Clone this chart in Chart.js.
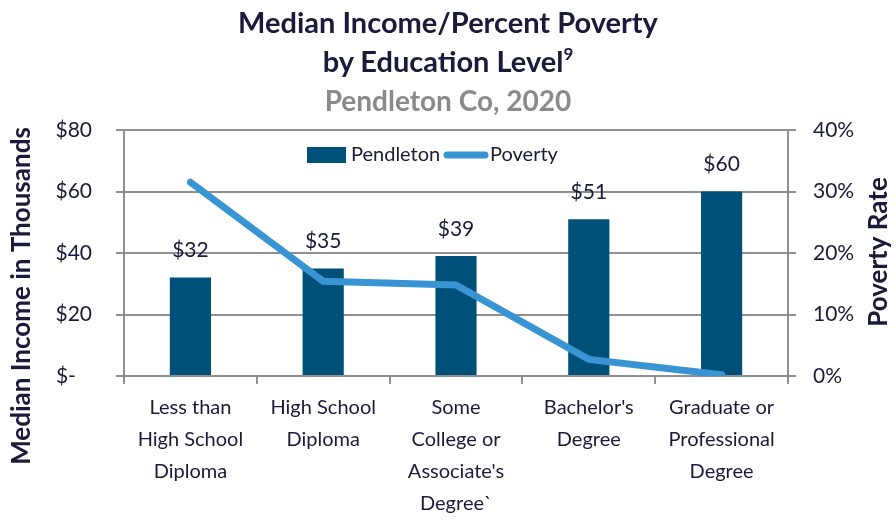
<!DOCTYPE html>
<html>
<head>
<meta charset="utf-8">
<script src="https://cdn.jsdelivr.net/npm/chart.js@4.4.1/dist/chart.umd.min.js"></script>
<style>
  html, body { margin: 0; padding: 0; background: #fff; }
  #wrap { position: relative; width: 896px; height: 521px; }
  #title {
    position: absolute; left: 0; top: 2px; width: 896px; text-align: center;
    font-family: Lato, sans-serif; font-weight: bold; font-size: 29px; line-height: 39px; color: #1a1a3a;
  }
  #title sup { font-size: 17px; line-height: 0; vertical-align: 12px; }
  #title .sub { color: #8a8a8a; font-size: 28px; }
</style>
</head>
<body>
<div id="wrap">
  <canvas id="chart" width="896" height="521"></canvas>
  <div id="title">Median Income/Percent Poverty<br>by Education Level<sup>9</sup><br><span class="sub">Pendleton Co, 2020</span></div>
</div>
<script>
// 데이터
const categories = [
  ['Less than', 'High School', 'Diploma'],
  ['High School', 'Diploma'],
  ['Some', 'College or', "Associate's", 'Degree`'],
  ["Bachelor's", 'Degree'],
  ['Graduate or', 'Professional', 'Degree']
];
const incomeValues = [32, 35, 39, 51, 60];       // 중위소득 (천 달러)
const povertyValues = [31.5, 15.4, 14.8, 2.7, 0.2]; // 빈곤율 (%)
const incomeTicks = ['$-', '$20', '$40', '$60', '$80'];

const textColor = '#1a1a3a';
const gridColor = '#909090';
const barColor = '#01507a';
const lineColor = '#3894d2';
const fontFam = 'Lato, sans-serif';

// 막대 위 라벨 + 범례 + 축 제목
const extrasPlugin = {
  id: 'extras',
  afterDatasetsDraw(chart) {
    const ctx = chart.ctx;
    const meta = chart.getDatasetMeta(0);
    ctx.save();
    ctx.font = '21px ' + fontFam;
    ctx.fillStyle = textColor;
    ctx.textAlign = 'center';
    ctx.textBaseline = 'middle';
    meta.data.forEach((bar, i) => {
      ctx.fillText('$' + incomeValues[i], bar.x, bar.y - 27);
    });

    // 범례
    ctx.fillStyle = barColor;
    ctx.fillRect(307, 147, 39, 16);
    ctx.fillStyle = textColor;
    ctx.textAlign = 'left';
    ctx.font = '20px ' + fontFam;
    ctx.fillText('Pendleton', 351, 155);
    ctx.strokeStyle = lineColor;
    ctx.lineWidth = 7;
    ctx.lineCap = 'round';
    ctx.beginPath();
    ctx.moveTo(447, 155);
    ctx.lineTo(485, 155);
    ctx.stroke();
    ctx.fillText('Poverty', 490, 155);

    // 축 제목
    ctx.font = 'bold 26px ' + fontFam;
    ctx.textAlign = 'center';
    ctx.save();
    ctx.translate(22, 296);
    ctx.rotate(-Math.PI / 2);
    ctx.fillText('Median Income in Thousands', 0, 0);
    ctx.restore();
    ctx.save();
    ctx.translate(879, 252);
    ctx.rotate(-Math.PI / 2);
    ctx.fillText('Poverty Rate', 0, 0);
    ctx.restore();
    ctx.restore();
  }
};

new Chart(document.getElementById('chart'), {
  type: 'bar',
  data: {
    labels: categories,
    datasets: [
      {
        type: 'bar',
        label: 'Pendleton',
        data: incomeValues,
        backgroundColor: barColor,
        yAxisID: 'y',
        barPercentage: 0.31,
        categoryPercentage: 1,
        order: 2
      },
      {
        type: 'line',
        label: 'Poverty',
        data: povertyValues,
        borderColor: lineColor,
        borderWidth: 7,
        borderCapStyle: 'round',
        pointRadius: 0,
        tension: 0,
        yAxisID: 'y1',
        order: 1
      }
    ]
  },
  options: {
    responsive: false,
    animation: false,
    layout: { padding: { top: 130, left: 0, right: 0, bottom: 0 } },
    plugins: {
      legend: { display: false },
      tooltip: { enabled: false }
    },
    scales: {
      x: {
        grid: { display: true, drawOnChartArea: false, offset: true, color: gridColor, lineWidth: 2, tickLength: 8 },
        border: { color: gridColor, width: 2 },
        ticks: { color: textColor, font: { family: fontFam, size: 20, lineHeight: 1.6 }, padding: 8, maxRotation: 0, autoSkip: false },
        afterFit(s) { s.height = 145; }
      },
      y: {
        position: 'left',
        min: 0, max: 80,
        grid: { color: gridColor, lineWidth: 2, tickLength: 8 },
        border: { color: gridColor, width: 2 },
        ticks: {
          stepSize: 20, padding: 24, color: textColor,
          font: { family: fontFam, size: 21 },
          callback: (v) => incomeTicks[v / 20] + (v === 0 ? '   ' : '')
        },
        afterFit(s) { s.width = 124; }
      },
      y1: {
        position: 'right',
        min: 0, max: 40,
        grid: { drawOnChartArea: false, color: gridColor, lineWidth: 2, tickLength: 8 },
        border: { color: gridColor, width: 2 },
        ticks: {
          stepSize: 10, padding: 17, color: textColor,
          font: { family: fontFam, size: 21 },
          callback: (v) => v + '%'
        },
        afterFit(s) { s.width = 108; }
      }
    }
  },
  plugins: [extrasPlugin]
});
</script>
</body>
</html>
